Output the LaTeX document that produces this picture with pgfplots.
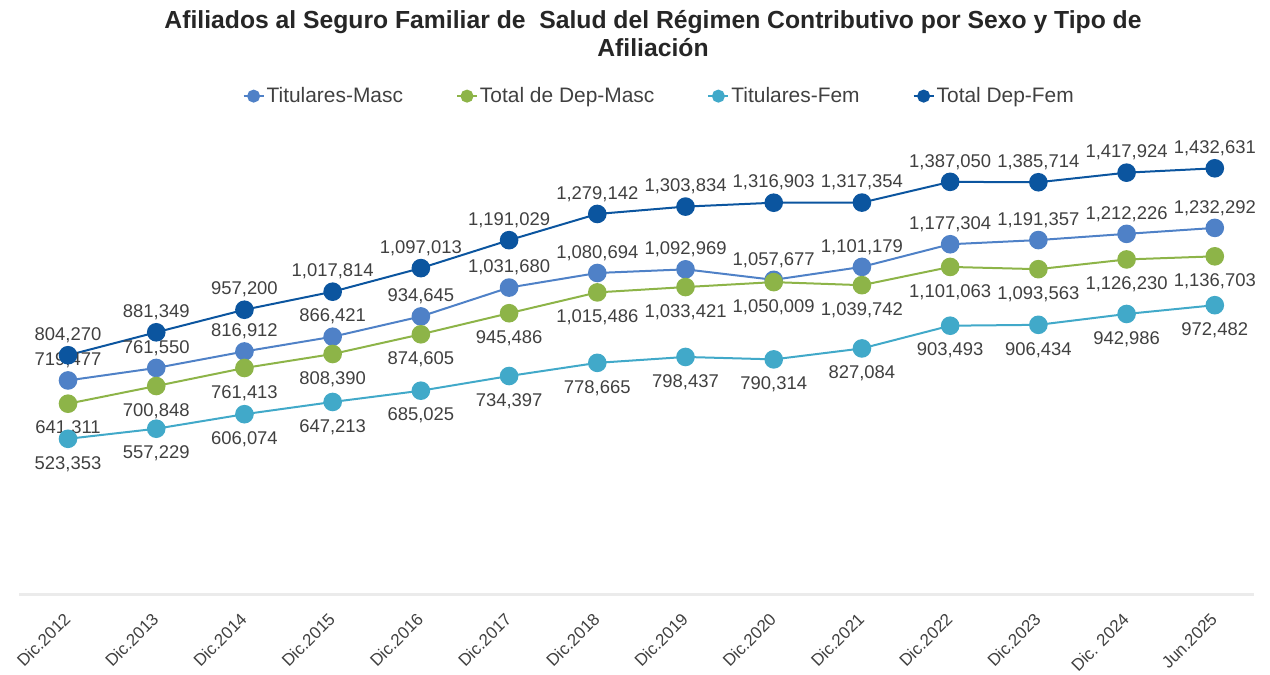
\documentclass[border=0pt]{standalone}
\usepackage{fontspec}
\setmainfont{Liberation Sans}
\usepackage{pgfplots}
\usepackage{pgfplotstable}
\pgfplotsset{compat=1.18}
\definecolor{ctm}{HTML}{4F81C7}
\definecolor{cdm}{HTML}{8DB448}
\definecolor{ctf}{HTML}{41A9C9}
\definecolor{cdf}{HTML}{0B559F}
\definecolor{txt}{HTML}{404040}

\pgfplotstableread{
x y lab
0 719477 719,477
1 761550 761,550
2 816912 816,912
3 866421 866,421
4 934645 934,645
5 1031680 1,031,680
6 1080694 1,080,694
7 1092969 1,092,969
8 1057677 1,057,677
9 1101179 1,101,179
10 1177304 1,177,304
11 1191357 1,191,357
12 1212226 1,212,226
13 1232292 1,232,292
}\tabTM

\pgfplotstableread{
x y lab
0 641311 641,311
1 700848 700,848
2 761413 761,413
3 808390 808,390
4 874605 874,605
5 945486 945,486
6 1015486 1,015,486
7 1033421 1,033,421
8 1050009 1,050,009
9 1039742 1,039,742
10 1101063 1,101,063
11 1093563 1,093,563
12 1126230 1,126,230
13 1136703 1,136,703
}\tabDM

\pgfplotstableread{
x y lab
0 523353 523,353
1 557229 557,229
2 606074 606,074
3 647213 647,213
4 685025 685,025
5 734397 734,397
6 778665 778,665
7 798437 798,437
8 790314 790,314
9 827084 827,084
10 903493 903,493
11 906434 906,434
12 942986 942,986
13 972482 972,482
}\tabTF

\pgfplotstableread{
x y lab
0 804270 804,270
1 881349 881,349
2 957200 957,200
3 1017814 1,017,814
4 1097013 1,097,013
5 1191029 1,191,029
6 1279142 1,279,142
7 1303834 1,303,834
8 1316903 1,316,903
9 1317354 1,317,354
10 1387050 1,387,050
11 1385714 1,385,714
12 1417924 1,417,924
13 1432631 1,432,631
}\tabDF

\begin{document}
\begin{tikzpicture}
\useasboundingbox (0bp,0bp) rectangle (1270bp,675bp);
\node[font=\fontsize{24.8}{28}\selectfont\bfseries, text=black!85, align=center, anchor=north, inner sep=0pt] at (653bp,665bp)
 {Afiliados al Seguro Familiar de\ \ Salud del Régimen Contributivo por Sexo y Tipo de\\Afiliación};
\begin{axis}[
  at={(19.5bp,80.5bp)}, anchor=south west,
  scale only axis, width=1235bp, height=476bp,
  xmin=-0.55, xmax=13.45, ymin=0, ymax=1600000,
  axis x line*=bottom, axis y line=none,
  x axis line style={draw=black!8, line width=2bp},
  xtick={0,...,13},
  xticklabels={Dic.2012,Dic.2013,Dic.2014,Dic.2015,Dic.2016,Dic.2017,Dic.2018,Dic.2019,Dic.2020,Dic.2021,Dic.2022,Dic.2023,Dic. 2024,Jun.2025},
  major tick length=0pt,
  xticklabel style={rotate=45, anchor=east, font=\fontsize{17}{19}\selectfont, text=txt, inner sep=1bp},
  xticklabel shift=21bp,
  ytick=\empty,
  clip=false,
  point meta=explicit symbolic,
  legend columns=4,
  legend style={at={(0.518,1.047)}, anchor=center, draw=none, fill=none,
    font=\fontsize{21}{24}\selectfont, text=txt,
    /tikz/every even column/.append style={column sep=51bp},
    /tikz/every odd column/.append style={column sep=0bp}},
  legend image code/.code={\draw[mark repeat=2,mark phase=2,#1,mark size=5.5bp,line width=2bp] plot coordinates {(0bp,0bp) (10bp,0bp) (20bp,0bp)};},
  every axis plot/.append style={line width=2bp, mark=*, mark size=8.3bp},
  nodes near coords={\pgfplotspointmeta},
  every node near coord/.append style={font=\fontsize{18.5}{20}\selectfont, text=txt, anchor=center},
]
\addplot[color=ctm, mark options={fill=ctm,draw=ctm}, every node near coord/.append style={yshift=20bp}] table[x=x,y=y,meta=lab]{\tabTM};
\addlegendentry{Titulares-Masc}
\addplot[color=cdm, mark options={fill=cdm,draw=cdm}, every node near coord/.append style={yshift=-25bp}] table[x=x,y=y,meta=lab]{\tabDM};
\addlegendentry{Total de Dep-Masc}
\addplot[color=ctf, mark options={fill=ctf,draw=ctf}, every node near coord/.append style={yshift=-25bp}] table[x=x,y=y,meta=lab]{\tabTF};
\addlegendentry{Titulares-Fem}
\addplot[color=cdf, mark options={fill=cdf,draw=cdf}, every node near coord/.append style={yshift=20bp}] table[x=x,y=y,meta=lab]{\tabDF};
\addlegendentry{Total Dep-Fem}
\end{axis}
\end{tikzpicture}
\end{document}
